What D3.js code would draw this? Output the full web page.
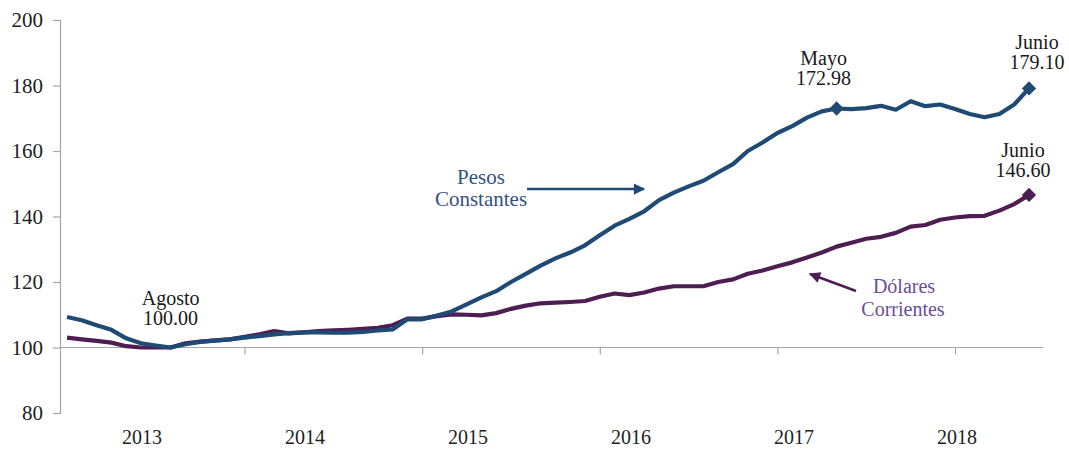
<!DOCTYPE html>
<html><head><meta charset="utf-8">
<script src="https://cdn.jsdelivr.net/npm/d3@7"></script>
<style>body{margin:0;background:#fff}svg{display:block}svg text{font-family:"Liberation Serif","Times New Roman",serif !important}</style>
</head><body>
<svg id="c" width="1069" height="449"></svg>
<script>
// Monthly index, Jan 2013 .. Jun 2018 (66 months)
const years = ["2013","2014","2015","2016","2017","2018"];
const yTicks = [80,100,120,140,160,180,200];
const pesosConstantes = [109.3,108.3,106.8,105.4,102.8,101.3,100.6,100.0,101.0,101.7,102.1,102.5,
  103.0,103.5,104.0,104.4,104.6,104.6,104.5,104.5,104.8,105.2,105.5,108.6,
  108.6,109.8,111.0,113.2,115.3,117.2,120.0,122.5,125.0,127.2,129.0,131.2,
  134.3,137.2,139.3,141.6,145.0,147.3,149.2,150.9,153.5,156.0,160.0,162.6,
  165.5,167.6,170.2,172.1,172.98,172.8,173.1,173.8,172.6,175.2,173.7,174.2,
  172.8,171.3,170.3,171.3,174.2,179.1];
const dolaresCorrientes = [103.0,102.5,102.0,101.5,100.4,100.0,100.0,100.0,101.3,101.8,102.2,102.5,
  103.3,104.0,105.0,104.3,104.6,105.0,105.2,105.4,105.7,106.0,106.8,108.8,
  108.8,109.6,110.1,110.0,109.8,110.5,111.8,112.8,113.5,113.7,113.9,114.2,
  115.5,116.5,116.0,116.8,118.0,118.7,118.7,118.7,120.0,120.8,122.5,123.5,
  124.8,126.0,127.5,129.0,130.8,132.0,133.2,133.8,135.0,136.9,137.4,139.0,
  139.7,140.1,140.2,141.8,143.8,146.6];
// annotated points: [series, month index, line1, line2]
const annotations = [
  ["p", 7, "Agosto", "100.00"],
  ["p", 52, "Mayo", "172.98"],
  ["p", 65, "Junio", "179.10"],
  ["d", 65, "Junio", "146.60"]
];
const markerMonths = {p:[52,65], d:[65]};

const svg = d3.select("#c");
const FONT = "'Liberation Serif','Times New Roman',serif";
const blue = "#1f4a74", purple = "#4e1e52", axisCol = "#a6a6a6";
const x = d3.scaleLinear().domain([0, 65]).range([67, 1029]);
const y = d3.scaleLinear().domain([80, 200]).range([413, 20]);
const xLab = d3.scalePoint().domain(years).range([142, 957]);

// y axis
const yAxis = d3.axisLeft(y).tickValues(yTicks).tickSize(7).tickPadding(10).tickFormat(d3.format("d"));
const gy = svg.append("g").attr("transform","translate(60,0)").call(yAxis).attr("font-family", FONT);
gy.select(".domain").attr("stroke", axisCol).attr("stroke-width",1.2);
gy.selectAll(".tick line").attr("stroke", axisCol).attr("stroke-width",1.2);
gy.selectAll(".tick text").attr("font-size",21).attr("fill","#222").style("font-family", FONT);

// x axis at value 100
const xAxis = d3.axisBottom(x).tickValues([12,24,36,48,60]).tickSize(7).tickFormat("");
const gx = svg.append("g").attr("transform",`translate(0,${y(100)})`).call(xAxis);
gx.select(".domain").attr("d", "M60,0H1043").attr("stroke", axisCol).attr("stroke-width",1.2);
gx.selectAll(".tick line").attr("stroke", axisCol).attr("stroke-width",1.2);

svg.append("g").selectAll("text").data(years).join("text")
  .attr("x", d => xLab(d)).attr("y", 444).attr("text-anchor","middle")
  .attr("font-size",20).attr("fill","#222").style("font-family", FONT).text(d => d);

// lines
const line = d3.line().x((d,i) => x(i)).y(d => y(d));
svg.append("path").datum(dolaresCorrientes).attr("d", line).attr("fill","none")
  .attr("stroke", purple).attr("stroke-width",4.2).attr("stroke-linejoin","round");
svg.append("path").datum(pesosConstantes).attr("d", line).attr("fill","none")
  .attr("stroke", blue).attr("stroke-width",4.2).attr("stroke-linejoin","round");

// diamonds
const diamond = d3.symbol().type(d3.symbolDiamond2).size(130);
const series = {p: pesosConstantes, d: dolaresCorrientes};
Object.entries(markerMonths).forEach(([k, arr]) => {
  svg.append("g").selectAll("path").data(arr).join("path")
    .attr("d", diamond)
    .attr("transform", i => `translate(${x(i)},${y(series[k][i])})`)
    .attr("fill", k === "p" ? blue : purple);
});

// annotations
function txt(xx, yy, s, size, col){
  return svg.append("text").attr("x", xx).attr("y", yy).attr("text-anchor","middle")
    .attr("font-size", size).attr("fill", col).style("font-family", FONT).text(s);
}
annotations.forEach(([k, i, l1, l2]) => {
  let dx = 0, o1, o2;
  if (i === 7) { o1 = 305; o2 = 325; dx = 0; }
  else if (i === 52) { o1 = 65; o2 = 85; dx = -13; }
  else if (k === "p") { o1 = 49; o2 = 69; dx = 8; }
  else { o1 = 157; o2 = 177; dx = -6; }
  txt(x(i)+dx, o1, l1, 20, "#1a1a1a");
  txt(x(i)+dx, o2, l2, 20, "#1a1a1a");
});

// labels with arrows
const defs = svg.append("defs");
function marker(id, col){
  defs.append("marker").attr("id",id).attr("viewBox","0 0 10 10").attr("refX",9).attr("refY",5)
    .attr("markerWidth",5).attr("markerHeight",4.5).attr("orient","auto")
    .append("path").attr("d","M0,0L10,5L0,10Z").attr("fill",col);
}
marker("ab", blue); marker("ap", purple);

txt(481, 184, "Pesos", 21, "#34527f");
txt(481, 206, "Constantes", 21, "#34527f");
svg.append("line").attr("x1",527).attr("y1",189).attr("x2",644).attr("y2",189)
  .attr("stroke",blue).attr("stroke-width",2.5).attr("marker-end","url(#ab)");

txt(904, 293, "Dólares", 20, "#6a4d99");
txt(903, 316, "Corrientes", 20, "#6a4d99");
svg.append("line").attr("x1",856).attr("y1",291).attr("x2",810).attr("y2",274)
  .attr("stroke",purple).attr("stroke-width",2.5).attr("marker-end","url(#ap)");
</script>
</body></html>
